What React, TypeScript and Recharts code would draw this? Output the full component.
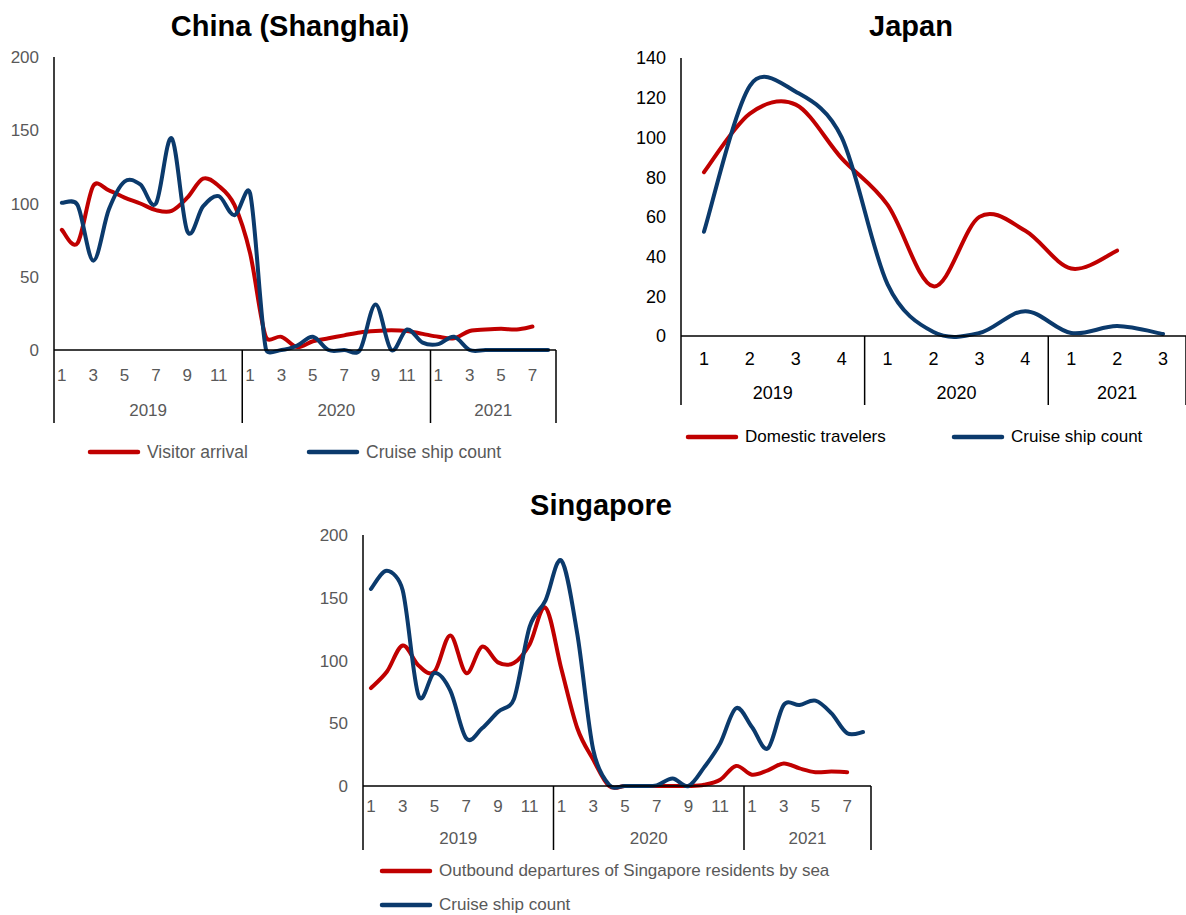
import React from "react";
import { LineChart, Line, XAxis, YAxis, Legend } from "recharts";

const RED = "#C00000";
const NAVY = "#0B3A6C";
const GREY = "#595959";
const FONT = '"Liberation Sans", Arial, sans-serif';

// categories: "year-period"
const monthCats = [
  "2019-1", "2019-2", "2019-3", "2019-4", "2019-5", "2019-6", "2019-7", "2019-8", "2019-9", "2019-10", "2019-11", "2019-12",
  "2020-1", "2020-2", "2020-3", "2020-4", "2020-5", "2020-6", "2020-7", "2020-8", "2020-9", "2020-10", "2020-11", "2020-12",
  "2021-1", "2021-2", "2021-3", "2021-4", "2021-5", "2021-6", "2021-7", "2021-8",
];
const quarterCats = ["2019-1", "2019-2", "2019-3", "2019-4", "2020-1", "2020-2", "2020-3", "2020-4", "2021-1", "2021-2", "2021-3"];

// China (Shanghai), monthly index
const shanghaiVisitors = [82, 73, 112, 109, 104, 100, 95.5, 95, 104, 117, 112, 99, 66, 9, 9, 2, 6, 8, 10, 12, 13, 13.5, 13, 11, 9, 8, 13, 14, 14.5, 14, 16];
const shanghaiCruise = [100.5, 99, 61, 96, 115, 113, 100, 144.5, 81, 98, 105, 92, 107, 1, 0, 3, 9, 0, 0, 0, 31, 0, 14, 5, 4, 9, 0, 0, 0, 0, 0, 0];

// Japan, quarterly index
const japanDomestic = [82.5, 112, 116.5, 89.5, 66, 25, 60, 53, 34, 43];
const japanCruise = [52.5, 126, 123, 100, 26, 2, 1.5, 12.5, 1.5, 5, 1];

// Singapore, monthly index
const sgOutbound = [78, 91, 112, 96, 91, 120, 90, 111, 98.5, 98, 113, 142, 93, 46, 21, 0, 0, 0, 0, 0, 0, 1, 5, 16, 9, 12.5, 18, 14, 11, 11.5, 11];
const sgCruise = [157, 171.5, 156, 72, 90, 76, 38, 46, 59, 69, 127, 148, 179.5, 121, 29, 1, 0, 0, 0.5, 6, 0, 15, 34, 62, 47, 30, 64.5, 64.5, 68, 58, 42, 43];

const ticks200 = [0, 50, 100, 150, 200];
const ticks140 = [0, 20, 40, 60, 80, 100, 120, 140];

const toRows = (cats: string[], a: number[], b: number[]) => cats.map((cat, i) => ({ cat, a: a[i], b: b[i] }));

// Excel-style smoothed line: Bezier through every point, tangent from the neighbours,
// control distance capped at half the segment length
const excelSmooth = (ctx: any) => {
  let xs: number[] = [];
  let ys: number[] = [];
  return {
    areaStart() {},
    areaEnd() {},
    lineStart() {
      xs = [];
      ys = [];
    },
    point(x: number, y: number) {
      xs.push(+x);
      ys.push(+y);
    },
    lineEnd() {
      const n = xs.length;
      if (!n) return;
      ctx.moveTo(xs[0], ys[0]);
      for (let i = 0; i < n - 1; i++) {
        const p = Math.max(i - 1, 0);
        const q = Math.min(i + 2, n - 1);
        const seg = Math.hypot(xs[i + 1] - xs[i], ys[i + 1] - ys[i]);
        const d0x = xs[i + 1] - xs[p], d0y = ys[i + 1] - ys[p];
        const d1x = xs[q] - xs[i], d1y = ys[q] - ys[i];
        const l0 = Math.hypot(d0x, d0y) || 1;
        const l1 = Math.hypot(d1x, d1y) || 1;
        const f0 = l0 / 6 > seg / 2 ? seg / 2 / l0 : 1 / 6;
        const f1 = l1 / 6 > seg / 2 ? seg / 2 / l1 : 1 / 6;
        ctx.bezierCurveTo(xs[i] + d0x * f0, ys[i] + d0y * f0, xs[i + 1] - d1x * f1, ys[i + 1] - d1y * f1, xs[i + 1], ys[i + 1]);
      }
    },
  };
};

function PeriodTick(props: any) {
  const { x, y, index, payload, cats, band, depth, color, fontSize, rowY, yearY, oddOnly } = props;
  const [year, period] = String(payload.value).split("-");
  const prevYear = index > 0 ? cats[index - 1].split("-")[0] : null;
  const first = prevYear !== year;
  const last = index === cats.length - 1;
  const count = cats.filter((c: string) => c.split("-")[0] === year).length;
  const left = x - band / 2;
  const show = !oddOnly || Number(period) % 2 === 1;
  return (
    <g>
      {show && (
        <text x={x} y={y + rowY} textAnchor="middle" dy="0.355em" fill={color} fontSize={fontSize}>
          {period}
        </text>
      )}
      {first && <line x1={left} x2={left} y1={y} y2={y + depth} stroke="#000" strokeWidth={1.5} />}
      {first && (
        <text x={left + (count * band) / 2} y={y + yearY} textAnchor="middle" dy="0.355em" fill={color} fontSize={fontSize}>
          {year}
        </text>
      )}
      {last && <line x1={x + band / 2} x2={x + band / 2} y1={y} y2={y + depth} stroke="#000" strokeWidth={1.5} />}
    </g>
  );
}

function LegendBox({ payload, color, fontSize, itemWidth, itemHeight, column }: any) {
  return (
    <div style={{ display: "flex", flexDirection: column ? "column" : "row", fontSize, color, lineHeight: "20px" }}>
      {(payload || []).map((p: any) => (
        <div key={p.value} style={{ display: "flex", alignItems: "center", width: itemWidth, height: itemHeight }}>
          <svg width={54} height={8} style={{ flex: "none" }}>
            <line x1={3} x2={51} y1={4} y2={4} stroke={p.color} strokeWidth={4.5} strokeLinecap="round" />
          </svg>
          <span style={{ marginLeft: 6, whiteSpace: "nowrap" }}>{p.value}</span>
        </div>
      ))}
    </div>
  );
}

type PanelProps = {
  left: number;
  top: number;
  width: number;
  height: number;
  margin: { top: number; right: number; left: number; bottom: number };
  yWidth: number;
  xHeight: number;
  cats: string[];
  rows: any[];
  names: [string, string];
  domain: [number, number];
  ticks: number[];
  textColor: string;
  fontSize: number;
  rowY: number;
  yearY: number;
  depth: number;
  oddOnly: boolean;
  legend: { left: number; top: number; itemWidth: number; itemHeight: number; column?: boolean; fontSize: number };
};

function Panel(p: PanelProps) {
  const plotW = p.width - p.margin.left - p.margin.right - p.yWidth;
  const band = plotW / p.cats.length;
  return (
    <div style={{ position: "absolute", left: p.left, top: p.top }}>
      <LineChart width={p.width} height={p.height} data={p.rows} margin={p.margin}>
        <XAxis
          dataKey="cat"
          interval={0}
          height={p.xHeight}
          padding={{ left: band / 2, right: band / 2 }}
          tickSize={0}
          tickMargin={0}
          tickLine={false}
          axisLine={{ stroke: "#000", strokeWidth: 1.5 }}
          tick={(t: any) => (
            <PeriodTick
              {...t}
              cats={p.cats}
              band={band}
              depth={p.depth}
              color={p.textColor}
              fontSize={p.fontSize}
              rowY={p.rowY}
              yearY={p.yearY}
              oddOnly={p.oddOnly}
            />
          )}
        />
        <YAxis
          width={p.yWidth}
          domain={p.domain}
          ticks={p.ticks}
          interval={0}
          tickSize={0}
          tickMargin={15}
          tickLine={false}
          axisLine={{ stroke: "#000", strokeWidth: 1.5 }}
          tick={{ fill: p.textColor, fontSize: p.fontSize }}
        />
        <Legend
          layout="horizontal"
          align="center"
          verticalAlign="middle"
          itemSorter="dataKey"
          wrapperStyle={{ left: p.legend.left - p.left, top: p.legend.top - p.top, width: "auto" }}
          content={(lp: any) => (
            <LegendBox
              payload={lp.payload}
              color={p.textColor}
              fontSize={p.legend.fontSize}
              itemWidth={p.legend.itemWidth}
              itemHeight={p.legend.itemHeight}
              column={p.legend.column}
            />
          )}
        />
        <Line dataKey="a" name={p.names[0]} type={excelSmooth as any} stroke={RED} strokeWidth={4} strokeLinecap="round" dot={false} isAnimationActive={false} />
        <Line dataKey="b" name={p.names[1]} type={excelSmooth as any} stroke={NAVY} strokeWidth={4} strokeLinecap="round" dot={false} isAnimationActive={false} />
      </LineChart>
    </div>
  );
}

const titleStyle = (cx: number, top: number): React.CSSProperties => ({
  position: "absolute",
  left: cx - 200,
  width: 400,
  top,
  textAlign: "center",
  fontWeight: "bold",
  fontSize: 29,
  lineHeight: "29px",
  color: "#000",
});

export default function App() {
  return (
    <div style={{ position: "absolute", left: 0, top: 0, width: 1186, height: 915, overflow: "hidden", background: "#fff", fontFamily: FONT }}>
      <div style={titleStyle(290, 12)}>China (Shanghai)</div>
      <div style={titleStyle(911, 12)}>Japan</div>
      <div style={titleStyle(601, 491)}>Singapore</div>

      <Panel
        left={0}
        top={0}
        width={600}
        height={440}
        margin={{ top: 57, right: 44, left: 0, bottom: 0 }}
        yWidth={54}
        xHeight={90}
        cats={monthCats}
        rows={toRows(monthCats, shanghaiVisitors, shanghaiCruise)}
        names={["Visitor arrival", "Cruise ship count"]}
        domain={[0, 200]}
        ticks={ticks200}
        textColor={GREY}
        fontSize={17}
        rowY={25}
        yearY={60}
        depth={73}
        oddOnly
        legend={{ left: 87, top: 442, itemWidth: 219, itemHeight: 20, fontSize: 17.5 }}
      />

      <Panel
        left={620}
        top={0}
        width={566}
        height={411}
        margin={{ top: 58, right: 0, left: 0, bottom: 0 }}
        yWidth={61}
        xHeight={75}
        cats={quarterCats}
        rows={toRows(quarterCats, japanDomestic, japanCruise)}
        names={["Domestic travelers", "Cruise ship count"]}
        domain={[0, 140]}
        ticks={ticks140}
        textColor="#000"
        fontSize={18}
        rowY={23}
        yearY={57}
        depth={69}
        oddOnly={false}
        legend={{ left: 685, top: 427, itemWidth: 266, itemHeight: 20, fontSize: 17 }}
      />

      <Panel
        left={300}
        top={480}
        width={600}
        height={376}
        margin={{ top: 55, right: 29, left: 0, bottom: 0 }}
        yWidth={63}
        xHeight={70}
        cats={monthCats}
        rows={toRows(monthCats, sgOutbound, sgCruise)}
        names={["Outbound departures of Singapore residents by sea", "Cruise ship count"]}
        domain={[0, 200]}
        ticks={ticks200}
        textColor={GREY}
        fontSize={17}
        rowY={20}
        yearY={52}
        depth={64}
        oddOnly
        legend={{ left: 379, top: 854, itemWidth: 520, itemHeight: 34, column: true, fontSize: 17 }}
      />
    </div>
  );
}
